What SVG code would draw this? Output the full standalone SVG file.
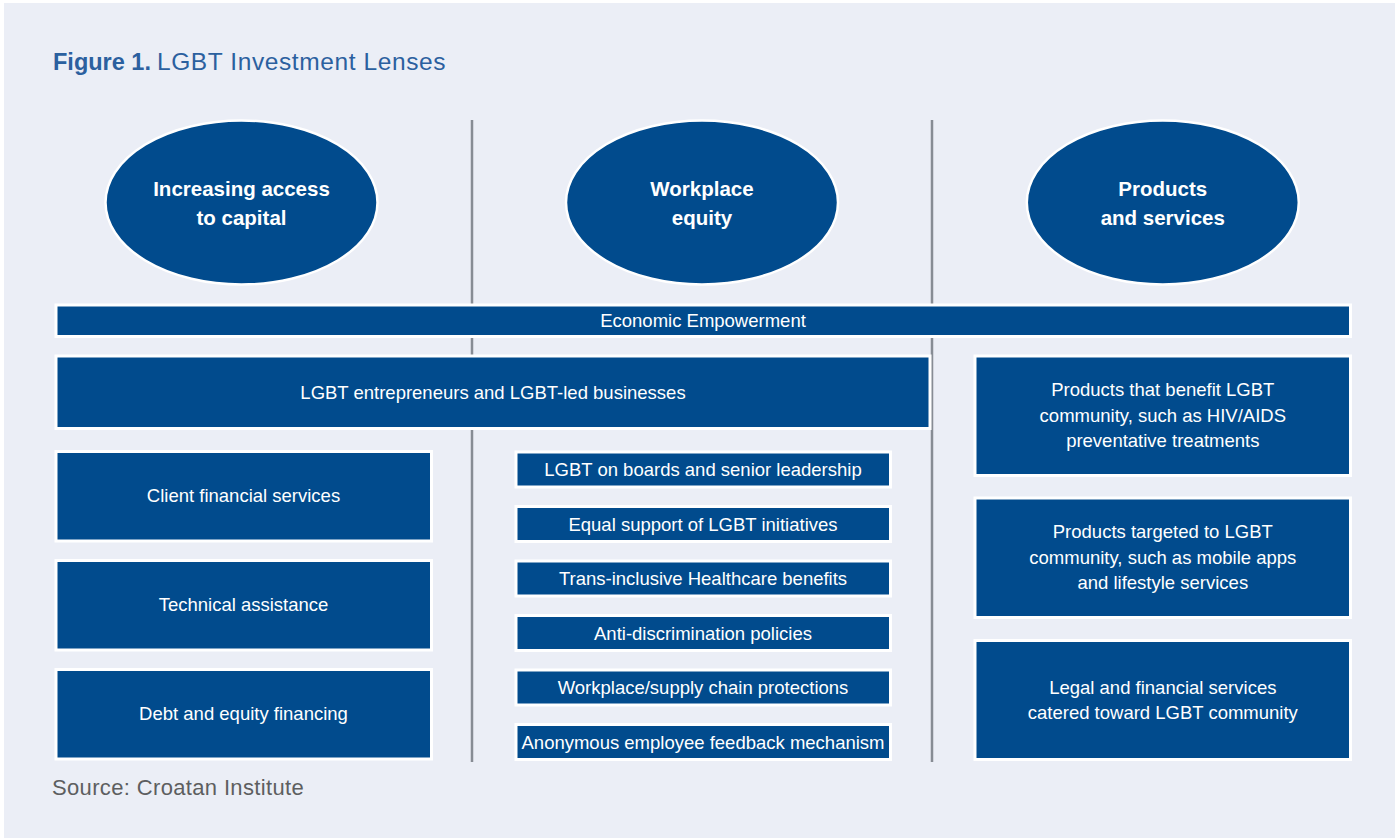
<svg xmlns="http://www.w3.org/2000/svg" width="1395" height="838" viewBox="0 0 1395 838">
<style>
.bg{fill:#ebeef6}
.box{fill:#014b8d;stroke:#ffffff;stroke-width:3}
.ell{fill:#014b8d;stroke:#ffffff;stroke-width:2.5}
.t{font-family:"Liberation Sans",Arial,sans-serif;font-size:18.5px;fill:#ffffff;text-anchor:middle}
.h{font-family:"Liberation Sans",Arial,sans-serif;font-size:20.5px;font-weight:bold;fill:#ffffff;text-anchor:middle}
.sep{stroke:#878c94;stroke-width:2.5;fill:none}
</style>
<rect x="0" y="0" width="1395" height="838" fill="#ffffff"/>
<rect class="bg" x="4" y="3" width="1391" height="835"/>
<text x="53" y="70" font-family="'Liberation Sans',Arial,sans-serif" font-size="23.5" fill="#2b609f"><tspan font-weight="bold">Figure 1.</tspan><tspan dx="6" font-size="24.5" letter-spacing="0.6">LGBT Investment Lenses</tspan></text>
<g id="connectors">
<line class="sep" x1="472" y1="120" x2="472" y2="762"/>
<line class="sep" x1="932" y1="120" x2="932" y2="762"/>
</g>
<g id="lens-capital"><ellipse class="ell" cx="241.5" cy="202.5" rx="136" ry="82"/><text class="h" x="241.5" y="196">Increasing access</text><text class="h" x="241.5" y="225">to capital</text></g>
<g id="lens-workplace"><ellipse class="ell" cx="702" cy="202.5" rx="136" ry="82"/><text class="h" x="702" y="196">Workplace</text><text class="h" x="702" y="225">equity</text></g>
<g id="lens-products"><ellipse class="ell" cx="1162.8" cy="202.5" rx="136" ry="82"/><text class="h" x="1162.8" y="196">Products</text><text class="h" x="1162.8" y="225">and services</text></g>
<g id="economic-empowerment"><rect class="box" x="56" y="305" width="1294.5" height="31.5"/><text class="t" x="703" y="327">Economic Empowerment</text></g>
<g id="entrepreneurs"><rect class="box" x="56" y="356" width="874" height="72.5"/><text class="t" x="493" y="398.5">LGBT entrepreneurs and LGBT-led businesses</text></g>
<g id="client-financial"><rect class="box" x="56" y="451.5" width="375.5" height="89.5"/><text class="t" x="243.5" y="502">Client financial services</text></g>
<g id="technical-assistance"><rect class="box" x="56" y="560.5" width="375.5" height="89.5"/><text class="t" x="243.5" y="611">Technical assistance</text></g>
<g id="debt-equity"><rect class="box" x="56" y="669.5" width="375.5" height="89.5"/><text class="t" x="243.5" y="720">Debt and equity financing</text></g>
<g id="boards"><rect class="box" x="516" y="452" width="374.5" height="35"/><text class="t" x="703" y="476">LGBT on boards and senior leadership</text></g>
<g id="equal-support"><rect class="box" x="516" y="506.5" width="374.5" height="35"/><text class="t" x="703" y="530.5">Equal support of LGBT initiatives</text></g>
<g id="healthcare"><rect class="box" x="516" y="561" width="374.5" height="35"/><text class="t" x="703" y="585">Trans-inclusive Healthcare benefits</text></g>
<g id="anti-discrimination"><rect class="box" x="516" y="615.5" width="374.5" height="35"/><text class="t" x="703" y="639.5">Anti-discrimination policies</text></g>
<g id="supply-chain"><rect class="box" x="516" y="670" width="374.5" height="35"/><text class="t" x="703" y="694">Workplace/supply chain protections</text></g>
<g id="feedback"><rect class="box" x="516" y="724.5" width="374.5" height="35"/><text class="t" x="703" y="748.5">Anonymous employee feedback mechanism</text></g>
<g id="benefit-products"><rect class="box" x="975" y="356" width="375.5" height="119.5"/><text class="t" x="1162.8" y="396">Products that benefit LGBT</text><text class="t" x="1162.8" y="421.5">community, such as HIV/AIDS</text><text class="t" x="1162.8" y="447">preventative treatments</text></g>
<g id="targeted-products"><rect class="box" x="975" y="498" width="375.5" height="119.5"/><text class="t" x="1162.8" y="538">Products targeted to LGBT</text><text class="t" x="1162.8" y="563.5">community, such as mobile apps</text><text class="t" x="1162.8" y="589">and lifestyle services</text></g>
<g id="legal-financial"><rect class="box" x="975" y="640.5" width="375.5" height="119"/><text class="t" x="1162.8" y="693.5">Legal and financial services</text><text class="t" x="1162.8" y="719">catered toward LGBT community</text></g>
<text x="52" y="795" font-family="'Liberation Sans',Arial,sans-serif" font-size="22" letter-spacing="0.35" fill="#5d5e60">Source: Croatan Institute</text>
</svg>
